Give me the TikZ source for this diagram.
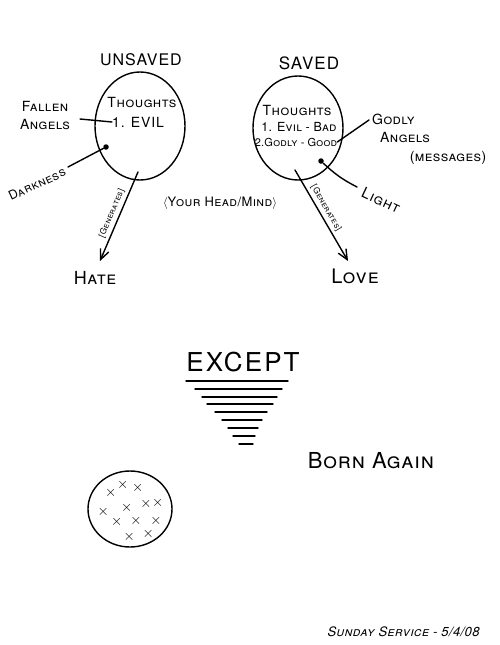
\documentclass[tikz,border=0pt]{standalone}
\usepackage{fontspec}
\setmainfont{TeX Gyre Heros}
\usetikzlibrary{shapes.geometric,arrows.meta}
\newcommand\fs[1]{\fontsize{#1}{#1}\selectfont}
\newcommand\ls[1]{\addfontfeature{LetterSpace=#1}}
\begin{document}
\begin{tikzpicture}[x=1pt,y=-1pt,
  pen/.style={line width=1.4pt, line cap=round, line join=round},
  blob/.style={ellipse, draw, line width=1.4pt, inner sep=0pt},
  lab/.style={inner sep=0pt, font=\fs{11}\scshape},
  dotmark/.style={circle, fill, inner sep=0pt, minimum size=5.5pt},
  gen/.style={-{Straight Barb[length=10pt,width=9pt,line width=1.4pt]}, pen},
  xm/.style={inner sep=0pt, font=\fs{14}}]
\useasboundingbox (0,0) rectangle (500,645);

% ---------- left: unsaved ----------
\node[lab, font=\fs{16}\ls{6}] (unsaved) at (141,60) {UNSAVED};
\node[blob, minimum width=90pt, minimum height=108pt] (lc) at (140,126) {};
\node[lab, font=\fs{14}\scshape\ls{4}] (lthoughts) at (142,102) {Thoughts};
\node[lab, font=\fs{14}\ls{6}] (evil) at (138,122) {1. EVIL};
\node[lab, font=\fs{14}\scshape\ls{3}, align=center] (fallen) at (45,115) {Fallen\\[4pt]Angels};
\draw[pen] (80,119) -- (evil.west);
\node[dotmark] (ldot) at (106,147) {};
\node[lab, font=\fs{12.5}\scshape\ls{4}, rotate=25] (dark) at (37,184) {Darkness};
\draw[pen] (ldot) -- (68,167);
\coordinate (lstart) at (138,172);
\node[lab, font=\fs{18}\scshape\ls{4}] (hate) at (95,278) {Hate};
\coordinate (lend) at (100,261);
\draw[gen] (lstart) -- node[pos=0.5, sloped, above=3pt, lab, font=\fs{8.5}\scshape\ls{4}] (lgen) {[Generates]} (lend);

% ---------- middle ----------
\node[lab, font=\fs{13}\scshape\ls{3}] (head) at (220,203) {$\langle$Your Head/Mind$\rangle$};

% ---------- right: saved ----------
\node[lab, font=\fs{17}\ls{6}] (saved) at (309,63) {SAVED};
\node[blob, minimum width=90pt, minimum height=104pt] (rc) at (298,128) {};
\node[lab, font=\fs{14}\scshape\ls{4}] (rthoughts) at (297,110) {Thoughts};
\node[lab, font=\fs{12.5}\scshape\ls{2}] (evilbad) at (299,127) {1. Evil - Bad};
\node[lab, font=\fs{11}\scshape\ls{2}] (godgood) at (296,142) {2.Godly - Good};
\node[lab, font=\fs{14}\scshape\ls{3}, align=left, anchor=west] (godly) at (372,128) {Godly\\[4pt]\hspace*{8pt}Angels};
\coordinate (gline) at (369,120);
\draw[pen] (godgood.east) -- (gline);
\node[lab, font=\fs{14}\scshape\ls{3}] (msg) at (448,158) {(messages)};
\node[dotmark] (rdot) at (321,161) {};
\node[lab, font=\fs{15}\scshape\ls{5}, rotate=-25] (light) at (381,200) {Light};
\draw[pen] (rdot) to[bend right=8] (357,187);
\coordinate (rstart) at (295,170);
\node[lab, font=\fs{20}\scshape\ls{5}] (love) at (355,276) {Love};
\coordinate (rend) at (348,261);
\draw[gen] (rstart) -- node[pos=0.46, sloped, above=3pt, lab, font=\fs{8.5}\scshape\ls{4}] (rgen) {[Generates]} (rend);

% ---------- except ----------
\node[lab, font=\fs{26}\ls{8}] (except) at (243,362) {EXCEPT};
\foreach \y/\a/\b in {381/186/288, 389/195/282, 397/202/277, 404/207/273,
                      412/215/267, 420/222/262, 428/228/258, 436/233/255, 444/239/253}
  \draw[pen] (\a,\y) -- (\b,\y);

\node[lab, font=\fs{22}\scshape\ls{4}] (born) at (371,461) {Born Again};

% ---------- bottom circle ----------
\node[blob, minimum width=84pt, minimum height=76pt] (bc) at (130,509) {};
\foreach \x/\y [count=\i] in {110.7/493.3, 122.7/485, 137.7/488.3, 103.3/511.7,
    126.7/507.7, 146/504.3, 157.7/502.7, 116.7/522.3, 136/521, 156/521,
    129.3/536.7, 148.3/534}
  \node[xm] (x\i) at (\x,\y) {$\times$};

% ---------- footer ----------
\node[lab, font=\fs{13}\scshape\ls{3}, xslant=0.25] (date) at (404,632) {Sunday Service - 5/4/08};
\end{tikzpicture}
\end{document}
